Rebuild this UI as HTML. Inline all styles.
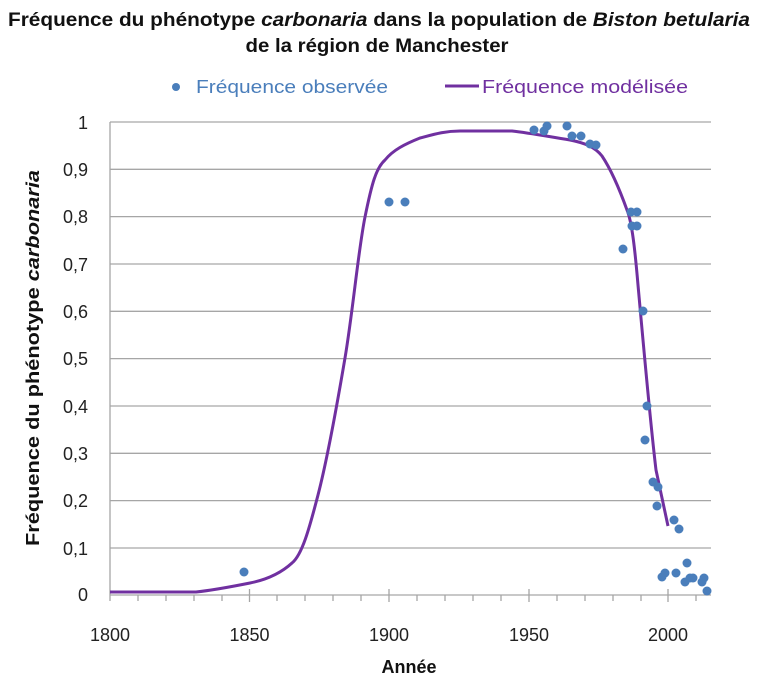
<!DOCTYPE html>
<html><head><meta charset="utf-8"><style>
html,body{margin:0;padding:0;background:#fff;}
svg{display:block;font-family:"Liberation Sans Narrow","Liberation Sans",sans-serif;}
</style></head><body>
<svg width="760" height="682" viewBox="0 0 760 682" xmlns="http://www.w3.org/2000/svg">
<text x="379" y="26" text-anchor="middle" font-size="19" font-weight="bold" fill="#111" textLength="742" lengthAdjust="spacingAndGlyphs">Fréquence du phénotype <tspan font-style="italic">carbonaria</tspan> dans la population  de <tspan font-style="italic">Biston betularia</tspan></text>
<text x="377" y="52" text-anchor="middle" font-size="19" font-weight="bold" fill="#111" textLength="263" lengthAdjust="spacingAndGlyphs">de la région de Manchester</text>
<circle cx="176" cy="87" r="4" fill="#4a7ebb"/>
<text x="196" y="93" font-size="18" fill="#4a7ebb" textLength="192" lengthAdjust="spacingAndGlyphs">Fréquence observée</text>
<line x1="445" y1="86" x2="479" y2="86" stroke="#7030a0" stroke-width="3"/>
<text x="482" y="93" font-size="18" fill="#7030a0" textLength="206" lengthAdjust="spacingAndGlyphs">Fréquence modélisée</text>
<g stroke="#a6a6a6" stroke-width="1.3">
<line x1="110" y1="122" x2="711" y2="122"/>
<line x1="110" y1="169.3" x2="711" y2="169.3"/>
<line x1="110" y1="216.6" x2="711" y2="216.6"/>
<line x1="110" y1="264" x2="711" y2="264"/>
<line x1="110" y1="311.3" x2="711" y2="311.3"/>
<line x1="110" y1="358.6" x2="711" y2="358.6"/>
<line x1="110" y1="406" x2="711" y2="406"/>
<line x1="110" y1="453.3" x2="711" y2="453.3"/>
<line x1="110" y1="500.6" x2="711" y2="500.6"/>
<line x1="110" y1="548" x2="711" y2="548"/>
<line x1="110" y1="595" x2="711" y2="595"/>
<line x1="110" y1="122" x2="110" y2="601"/>
<line x1="138" y1="595" x2="138" y2="601"/><line x1="166" y1="595" x2="166" y2="601"/><line x1="194" y1="595" x2="194" y2="601"/><line x1="222" y1="595" x2="222" y2="601"/>
<line x1="249.5" y1="589" x2="249.5" y2="602"/>
<line x1="277" y1="595" x2="277" y2="601"/><line x1="305" y1="595" x2="305" y2="601"/><line x1="333" y1="595" x2="333" y2="601"/><line x1="361" y1="595" x2="361" y2="601"/>
<line x1="389" y1="589" x2="389" y2="602"/>
<line x1="417" y1="595" x2="417" y2="601"/><line x1="445" y1="595" x2="445" y2="601"/><line x1="473" y1="595" x2="473" y2="601"/><line x1="501" y1="595" x2="501" y2="601"/>
<line x1="529" y1="589" x2="529" y2="602"/>
<line x1="557" y1="595" x2="557" y2="601"/><line x1="585" y1="595" x2="585" y2="601"/><line x1="613" y1="595" x2="613" y2="601"/><line x1="641" y1="595" x2="641" y2="601"/>
<line x1="668" y1="589" x2="668" y2="602"/>
<line x1="696" y1="595" x2="696" y2="601"/>
</g>
<g font-family="Liberation Sans, sans-serif" font-size="18" fill="#222" text-anchor="end">
<text x="88" y="129">1</text><text x="88" y="176">0,9</text><text x="88" y="223">0,8</text><text x="88" y="271">0,7</text><text x="88" y="318">0,6</text><text x="88" y="365">0,5</text><text x="88" y="413">0,4</text><text x="88" y="460">0,3</text><text x="88" y="507">0,2</text><text x="88" y="555">0,1</text><text x="88" y="601">0</text>
</g>
<g font-family="Liberation Sans, sans-serif" font-size="18" fill="#222" text-anchor="middle">
<text x="110" y="641">1800</text><text x="249.5" y="641">1850</text><text x="389" y="641">1900</text><text x="529" y="641">1950</text><text x="668" y="641">2000</text>
</g>
<text x="409" y="673" text-anchor="middle" font-size="18" font-weight="bold" fill="#111">Année</text>
<text transform="translate(39,358) rotate(-90)" text-anchor="middle" font-size="18" font-weight="bold" fill="#111" textLength="376" lengthAdjust="spacingAndGlyphs">Fréquence du phénotype <tspan font-style="italic">carbonaria</tspan></text>
<path d="M110,592 L196,592 C215,590 235,586 250,583 C265,580 280,574 292,563 C302,555 309.2,529 318,495 C326.8,461 337.2,404 345,358 C352.8,312 358.3,250 365,217 C371.7,184 376,168 385,160 C393,150 405,144 420,138 C435,134 445,131 460,131 L512,131 C530,133 545,136 570,140 C585,143 595,147 602,156 C610,168 618,185 627,210 C632,222 635,250 638,285 C643,340 650,420 656,470 L668,526" fill="none" stroke="#7030a0" stroke-width="3"/>
<g fill="#4a7ebb">
<circle cx="244" cy="572" r="4.5"/><circle cx="389" cy="202" r="4.5"/><circle cx="405" cy="202" r="4.5"/>
<circle cx="534" cy="130" r="4.5"/><circle cx="544" cy="131" r="4.5"/><circle cx="547" cy="126" r="4.5"/><circle cx="567" cy="126" r="4.5"/><circle cx="572" cy="136" r="4.5"/><circle cx="581" cy="136" r="4.5"/><circle cx="590" cy="144" r="4.5"/><circle cx="596" cy="145" r="4.5"/>
<circle cx="631" cy="212" r="4.5"/><circle cx="637" cy="212" r="4.5"/><circle cx="632" cy="226" r="4.5"/><circle cx="637" cy="226" r="4.5"/><circle cx="623" cy="249" r="4.5"/><circle cx="643" cy="311" r="4.5"/><circle cx="647" cy="406" r="4.5"/><circle cx="645" cy="440" r="4.5"/>
<circle cx="653" cy="482" r="4.5"/><circle cx="658" cy="487" r="4.5"/><circle cx="657" cy="506" r="4.5"/><circle cx="674" cy="520" r="4.5"/><circle cx="679" cy="529" r="4.5"/>
<circle cx="662" cy="577" r="4.5"/><circle cx="665" cy="573" r="4.5"/><circle cx="676" cy="573" r="4.5"/><circle cx="687" cy="563" r="4.5"/><circle cx="685" cy="582" r="4.5"/><circle cx="690" cy="578" r="4.5"/><circle cx="693" cy="578" r="4.5"/><circle cx="702" cy="582" r="4.5"/><circle cx="704" cy="578" r="4.5"/><circle cx="707" cy="591" r="4.5"/>
</g>
</svg>
</body></html>
